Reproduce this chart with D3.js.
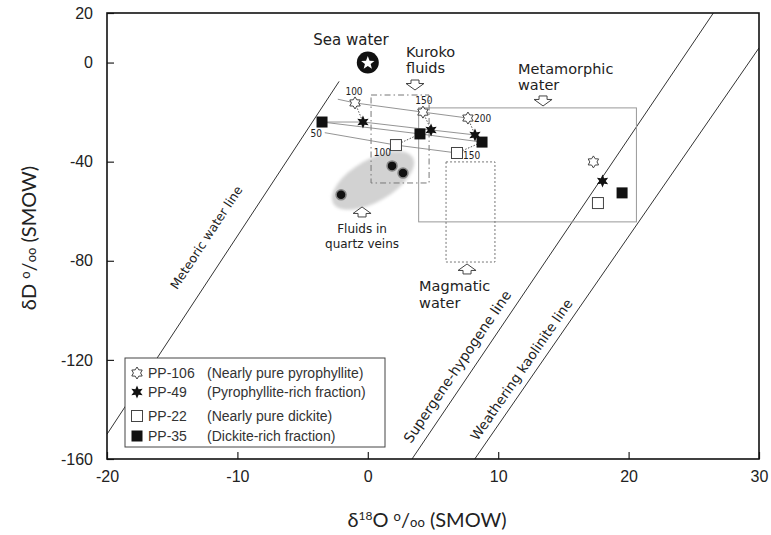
<!DOCTYPE html>
<html>
<head>
<meta charset="utf-8">
<script src="https://cdn.jsdelivr.net/npm/d3@7"></script>
<style>
  body { margin: 0; background: #fff; }
  svg { display: block; }
  .tick text { font-family: "Liberation Sans", Arial, sans-serif; font-size: 16px; fill: #222; }
  .note { font-family: "DejaVu Sans", Verdana, sans-serif; fill: #222; }
</style>
</head>
<body>
<svg></svg>
<script>
// axis ticks
const xTicks = [-20, -10, 0, 10, 20, 30];
const yTicks = [-160, -120, -80, -40, 0, 20];

// reference lines (δ18O, δD end points)
const meteoricO = [-20, -2.2];
const meteoricD = [-150, -7.6];
const supergeneO = [3.39, 26.5];
const supergeneD = [-160, 20];
const kaoliniteO = [8.2, 30];
const kaoliniteD = [-160, 5.9];

// fields
const kurokoO = [0.25, 4.7];
const kurokoD = [-48.6, -13.1];
const metamorphicO = [3.9, 20.6];
const metamorphicD = [-64.3, -18.3];
const magmaticO = [6.0, 9.75];
const magmaticD = [-80.5, -40.1];

const seaWaterO = [0];
const seaWaterD = [0];
const quartzO = [1.86, 2.7, -2.05];
const quartzD = [-41.7, -44.6, -53.4];

// samples
const samples = ["PP-106", "PP-49", "PP-22", "PP-35"];
const sampleNotes = ["(Nearly pure pyrophyllite)", "(Pyrophyllite-rich fraction)",
  "(Nearly pure dickite)", "(Dickite-rich fraction)"];

// measured minerals
const mineralO = [17.3, 18.0, 17.65, 19.5];
const mineralD = [-40.1, -47.8, -56.7, -52.6];

// calculated fluids (temperatures in °C)
const pp106T = [50, 100, 150, 200];
const pp106O = [-2.3, -0.98, 4.23, 7.68];
const pp106D = [-14.8, -16.3, -20.0, -22.4];
const pp49T = [50, 100, 150, 200];
const pp49O = [-3.51, -0.37, 4.85, 8.22];
const pp49D = [-24.0, -24.0, -27.2, -29.2];
const pp22T = [50, 100, 150];
const pp22O = [-3.3, 2.16, 6.84];
const pp22D = [-28.3, -33.3, -36.5];
const pp35T = [50, 150, 200];
const pp35O = [-3.51, 4.0, 8.76];
const pp35D = [-24.0, -28.8, -32.1];

const svg = d3.select("svg").attr("width", 771).attr("height", 535);
const margin = { left: 107, right: 12, top: 13, bottom: 76 };
const width = 771 - margin.left - margin.right;
const height = 535 - margin.top - margin.bottom;

const x = d3.scaleLinear().domain([-20, 30]).range([0, width]);
const y = d3.scaleLinear().domain([-160, 20]).range([height, 0]);

const g = svg.append("g").attr("transform", `translate(${margin.left},${margin.top})`);

const defs = svg.append("defs");
defs.append("clipPath").attr("id", "plot").append("rect").attr("width", width).attr("height", height);
defs.append("filter").attr("id", "soft").append("feGaussianBlur").attr("stdDeviation", 1.8);

// star path with n points
const starPath = (n, R, r) => {
  const pts = [];
  for (let i = 0; i < n * 2; i++) {
    const a = (Math.PI * i) / n - Math.PI / 2;
    const rad = i % 2 === 0 ? R : r;
    pts.push([Math.cos(a) * rad, Math.sin(a) * rad]);
  }
  return "M" + pts.map((p) => p.join(",")).join("L") + "Z";
};

const drawSymbol = (sel, i, cx, cy) => {
  if (i === 0) {
    sel.append("path").attr("d", starPath(6, 6, 3.6)).attr("transform", `translate(${cx},${cy})`)
      .attr("fill", "#fff").attr("stroke", "#444").attr("stroke-width", 1);
  } else if (i === 1) {
    sel.append("path").attr("d", starPath(6, 6.5, 3.2)).attr("transform", `translate(${cx},${cy})`)
      .attr("fill", "#111");
  } else if (i === 2) {
    sel.append("rect").attr("x", cx - 5.5).attr("y", cy - 5.5).attr("width", 11).attr("height", 11)
      .attr("fill", "#fff").attr("stroke", "#444").attr("stroke-width", 1);
  } else {
    sel.append("rect").attr("x", cx - 5.5).attr("y", cy - 5.5).attr("width", 11).attr("height", 11)
      .attr("fill", "#111");
  }
};

const plot = g.append("g").attr("clip-path", "url(#plot)");

// reference lines
const refLine = (os, ds) => {
  plot.append("line")
    .attr("x1", x(os[0])).attr("y1", y(ds[0]))
    .attr("x2", x(os[1])).attr("y2", y(ds[1]))
    .attr("stroke", "#333").attr("stroke-width", 1);
};
refLine(meteoricO, meteoricD);
refLine(supergeneO, supergeneD);
refLine(kaoliniteO, kaoliniteD);

// quartz vein blob
const bx = x(0.4), by = y(-47.6);
plot.append("ellipse").attr("cx", bx).attr("cy", by).attr("rx", 46).attr("ry", 21)
  .attr("transform", `rotate(-30,${bx},${by})`)
  .attr("fill", "#d2d2d2").attr("filter", "url(#soft)");

// fields
const field = (os, ds, dash, color) => {
  plot.append("rect")
    .attr("x", x(os[0])).attr("y", y(ds[1]))
    .attr("width", x(os[1]) - x(os[0])).attr("height", y(ds[0]) - y(ds[1]))
    .attr("fill", "none").attr("stroke", color).attr("stroke-width", 1)
    .attr("stroke-dasharray", dash);
};
field(metamorphicO, metamorphicD, null, "#999");
field(kurokoO, kurokoD, "6,3,1.5,3", "#777");
field(magmaticO, magmaticD, "2,2", "#777");

// fluid lines
const fluidSets = [
  [pp106O, pp106D, pp106T],
  [pp49O, pp49D, pp49T],
  [pp22O, pp22D, pp22T],
  [pp35O, pp35D, pp35T],
];
const line = d3.line().x((d) => x(d[0])).y((d) => y(d[1]));
fluidSets.forEach(([os, ds]) => {
  plot.append("path").attr("d", line(os.map((o, i) => [o, ds[i]])))
    .attr("fill", "none").attr("stroke", "#888").attr("stroke-width", 0.9);
});

// dotted tie lines between equal temperatures
const tie = (a, b) => {
  plot.append("line").attr("x1", x(a[0])).attr("y1", y(a[1]))
    .attr("x2", x(b[0])).attr("y2", y(b[1]))
    .attr("stroke", "#555").attr("stroke-width", 1).attr("stroke-dasharray", "1.5,1.5");
};
[1, 2, 3].forEach((i) => tie([pp106O[i], pp106D[i]], [pp49O[i], pp49D[i]]));
tie([pp22O[1], pp22D[1]], [pp35O[1], pp35D[1]]);
tie([pp22O[2], pp22D[2]], [pp35O[2], pp35D[2]]);

// fluid markers
const markerIdx = [[1, 2, 3], [1, 2, 3], [1, 2], [0, 1, 2]];
fluidSets.forEach(([os, ds], s) => {
  markerIdx[s].forEach((i) => drawSymbol(plot, s, x(os[i]), y(ds[i])));
});

// temperature labels
const tLabel = (o, d, dx, dy, txt, anchor) => {
  plot.append("text").attr("x", x(o) + dx).attr("y", y(d) + dy)
    .attr("text-anchor", anchor).attr("font-family", "'DejaVu Sans Condensed', sans-serif")
    .attr("font-size", 10).attr("fill", "#222").text(txt);
};
tLabel(pp106O[1], pp106D[1], -1, -8, pp106T[1], "middle");
tLabel(pp106O[2], pp106D[2], 1, -8, pp106T[2], "middle");
tLabel(pp106O[3], pp106D[3], 6, 4, pp106T[3], "start");
tLabel(pp35O[0], pp35D[0], 0, 15, pp35T[0], "end");
tLabel(pp22O[1], pp22D[1], -5, 11, pp22T[1], "end");
tLabel(pp22O[2], pp22D[2], 6, 6, pp22T[2], "start");

// measured minerals
samples.forEach((s, i) => drawSymbol(plot, i, x(mineralO[i]), y(mineralD[i])));

// quartz vein fluids
plot.selectAll(".qv").data(quartzO).enter().append("circle")
  .attr("cx", (d) => x(d)).attr("cy", (d, i) => y(quartzD[i])).attr("r", 5)
  .attr("fill", "#111").attr("stroke", "#888").attr("stroke-width", 1.5);

// sea water
seaWaterO.forEach((o, i) => {
  const sx = x(o), sy = y(seaWaterD[i]);
  plot.append("circle").attr("cx", sx).attr("cy", sy).attr("r", 11).attr("fill", "#111");
  plot.append("path").attr("d", starPath(5, 7, 3)).attr("transform", `translate(${sx},${sy + 0.5})`)
    .attr("fill", "#fff");
});

// block arrows
const arrow = (o, d, dir) => {
  const p = "M-4,-5L4,-5L4,-1.5L9,-1.5L0,5L-9,-1.5L-4,-1.5Z";
  g.append("path").attr("d", p)
    .attr("transform", `translate(${x(o)},${y(d)}) rotate(${dir === "up" ? 180 : 0})`)
    .attr("fill", "#fff").attr("stroke", "#444").attr("stroke-width", 1);
};
arrow(3.62, -9.06, "down");
arrow(13.44, -15.5, "down");
arrow(-0.44, -60.3, "up");
arrow(7.61, -83.3, "up");

// text notes
const note = (o, d, lines, size, anchor, lh) => {
  const t = g.append("text").attr("class", "note").attr("font-size", size)
    .attr("text-anchor", anchor).attr("x", x(o)).attr("y", y(d));
  lines.forEach((l, i) => t.append("tspan").attr("x", x(o)).attr("dy", i === 0 ? 0 : lh).text(l));
};
note(-1.29, 7.1, ["Sea water"], 15, "middle", 0);
note(2.93, 2.2, ["Kuroko", "fluids"], 14.5, "start", 16);
note(11.52, -4.6, ["Metamorphic", "water"], 14.5, "start", 16.5);
note(-0.44, -68.8, ["Fluids in", "quartz veins"], 12, "middle", 15);
note(3.93, -92.2, ["Magmatic", "water"], 14.5, "start", 16.5);

// rotated line labels
const angle = (os, ds) =>
  (Math.atan2(y(ds[1]) - y(ds[0]), x(os[1]) - x(os[0])) * 180) / Math.PI;
const lineLabel = (o, d, txt, os, ds, size) => {
  g.append("text").attr("class", "note").attr("font-size", size).attr("text-anchor", "middle")
    .attr("dominant-baseline", "middle")
    .attr("transform", `translate(${x(o)},${y(d)}) rotate(${angle(os, ds)})`).text(txt);
};
lineLabel(-12.33, -70.8, "Meteoric water line", meteoricO, meteoricD, 12.5);
lineLabel(6.92, -122.9, "Supergene-hypogene line", supergeneO, supergeneD, 14);
lineLabel(11.83, -124.1, "Weathering kaolinite line", kaoliniteO, kaoliniteD, 13.5);

// axes (plain hyphen minus signs as in the original)
const fmt = (d) => String(d);
const xAxis = d3.axisBottom(x).tickValues(xTicks).tickFormat(fmt)
  .tickSizeInner(-7).tickSizeOuter(0).tickPadding(12);
const yAxis = d3.axisLeft(y).tickValues(yTicks).tickFormat(fmt)
  .tickSizeInner(-7).tickSizeOuter(0).tickPadding(14);
g.append("g").attr("transform", `translate(0,${height})`).call(xAxis).call((a) => a.select(".domain").remove());
g.append("g").call(yAxis).call((a) => a.select(".domain").remove());
g.selectAll(".tick line").attr("stroke", "#222").attr("stroke-width", 1.2);

g.append("rect").attr("width", width).attr("height", height)
  .attr("fill", "none").attr("stroke", "#111").attr("stroke-width", 1.6);

// legend
const lg = g.append("g").attr("transform", "translate(18,345)");
lg.append("rect").attr("width", 260).attr("height", 89)
  .attr("fill", "#fff").attr("stroke", "#444").attr("stroke-width", 1);
const rowY = [15, 34, 58, 78];
samples.forEach((s, i) => {
  drawSymbol(lg, i, 12, rowY[i]);
  lg.append("text").attr("x", 23).attr("y", rowY[i] + 5)
    .attr("font-family", "'Liberation Sans', Arial, sans-serif").attr("font-size", 14)
    .attr("fill", "#333").text(s);
  lg.append("text").attr("x", 82).attr("y", rowY[i] + 5)
    .attr("font-family", "'Liberation Sans', Arial, sans-serif").attr("font-size", 14)
    .attr("fill", "#333").text(sampleNotes[i]);
});

// axis titles
const yt = svg.append("text").attr("transform", "translate(36,238) rotate(-90)")
  .attr("text-anchor", "middle").attr("font-family", "Lato, 'DejaVu Sans', sans-serif")
  .attr("font-size", 20).attr("fill", "#222");
yt.append("tspan").text("δD ");
yt.append("tspan").attr("font-size", 13).attr("dy", -6).text("o");
yt.append("tspan").attr("dy", 6).text("/");
yt.append("tspan").attr("font-size", 13).text("oo");
yt.append("tspan").text(" (SMOW)");

const xt = svg.append("text").attr("x", 427).attr("y", 527)
  .attr("text-anchor", "middle").attr("font-family", "Lato, 'DejaVu Sans', sans-serif")
  .attr("font-size", 20).attr("fill", "#222");
xt.append("tspan").text("δ");
xt.append("tspan").attr("font-size", 12).attr("dy", -7).text("18");
xt.append("tspan").attr("dy", 7).text("O ");
xt.append("tspan").attr("font-size", 13).attr("dy", -6).text("o");
xt.append("tspan").attr("dy", 6).text("/");
xt.append("tspan").attr("font-size", 13).text("oo");
xt.append("tspan").text(" (SMOW)");
</script>
</body>
</html>
